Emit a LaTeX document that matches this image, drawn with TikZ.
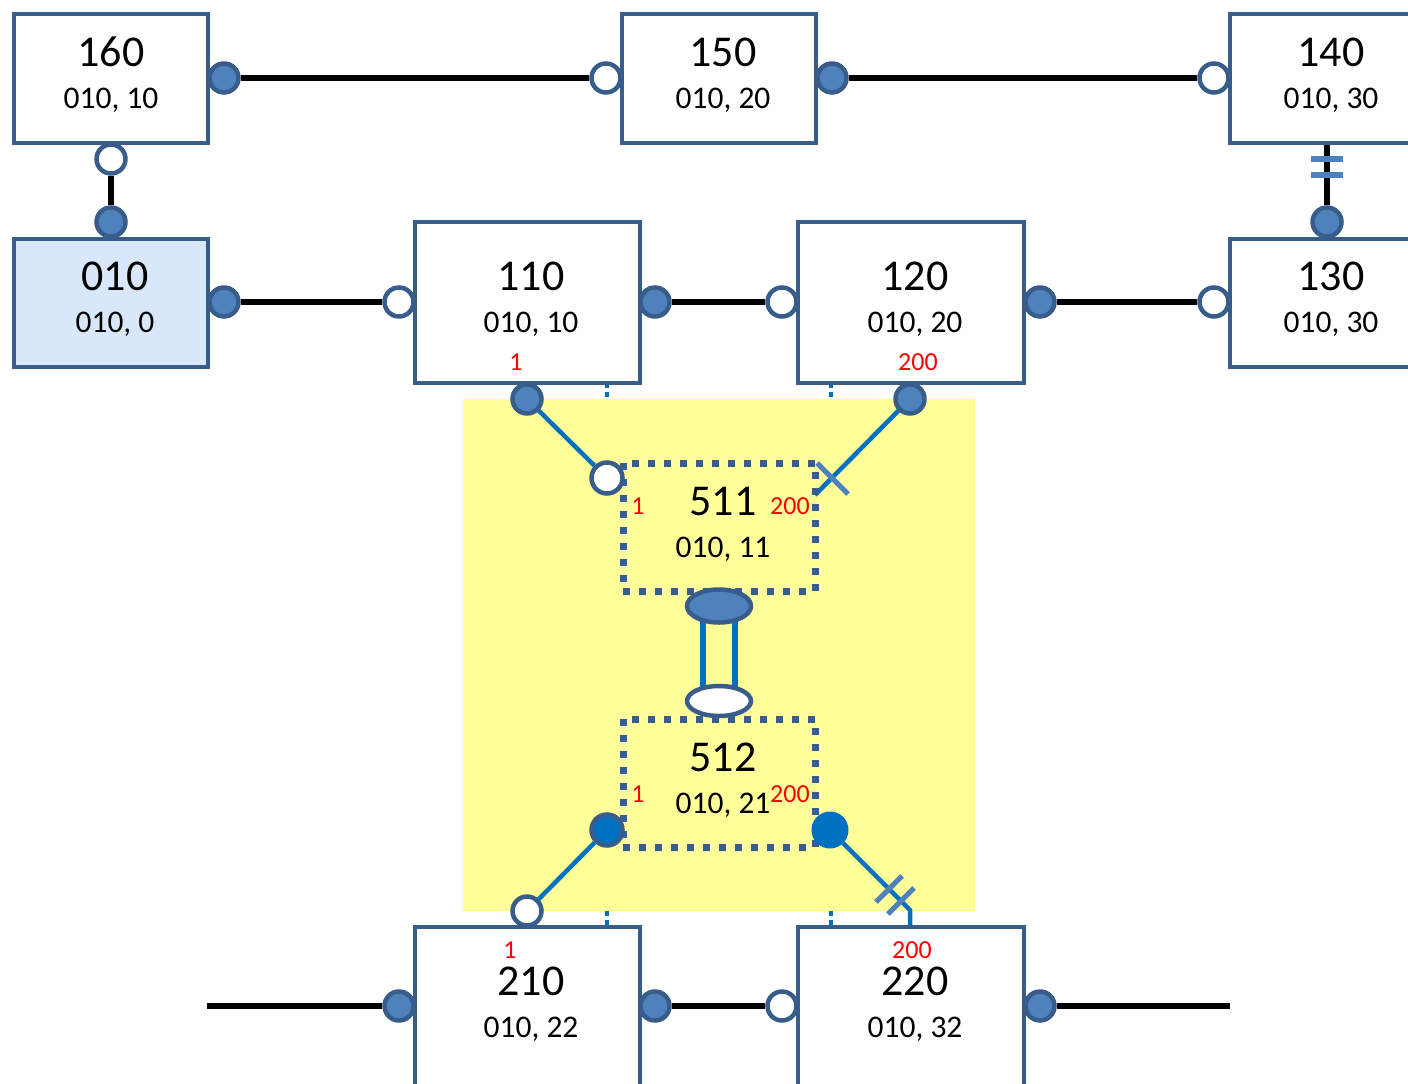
\documentclass[tikz,border=0pt]{standalone}
\usepackage{fontspec}
\setmainfont{Carlito}
\usetikzlibrary{shapes.geometric,calc}
\definecolor{bd}{HTML}{385D8A}
\definecolor{pfc}{HTML}{4F81BD}
\definecolor{blc}{HTML}{0070C0}
\definecolor{ylc}{HTML}{FFFF99}
\definecolor{lbc}{HTML}{D8E7FA}
\pgfdeclarelayer{bgA}\pgfdeclarelayer{bgB}\pgfsetlayers{bgA,bgB,main}
\begin{document}
\begin{tikzpicture}[x=1pt,y=-1pt,
  box/.style={draw=bd,line width=4pt,fill=white,minimum width=194pt,minimum height=129pt,inner sep=0pt},
  wbox/.style={box,minimum width=225pt,minimum height=161pt},
  dbox/.style={draw=bd,line width=7pt,dash pattern=on 7pt off 9pt,minimum width=192pt,minimum height=128pt,inner sep=0pt},
  bigt/.style={anchor=base,inner sep=0pt,font=\fontsize{44}{44}\selectfont},
  subt/.style={anchor=base,inner sep=0pt,font=\fontsize{31.5}{31.5}\selectfont},
  redt/.style={anchor=base,inner sep=0pt,text=red,font=\fontsize{26}{26}\selectfont},
  pfill/.style={circle,draw=bd,line width=4.5pt,fill=pfc,minimum size=29pt,inner sep=0pt},
  popen/.style={circle,draw=bd,line width=4.5pt,fill=white,minimum size=29pt,inner sep=0pt},
  blk/.style={line width=5.5pt,black},
  bline/.style={line width=4.5pt,blc},
  stub/.style={line width=4pt,blc,dash pattern=on 5pt off 4pt},
  tick/.style={line width=5pt,pfc},
]
\useasboundingbox (0,0) rectangle (1408,1084);
\begin{pgfonlayer}{bgA}
\fill[ylc] (463,399) rectangle (975,911);
\end{pgfonlayer}

% boxes
\node[box] (n160) at (111,78.5) {};
\node[box] (n150) at (719,78.5) {};
\node[box] (n140) at (1327,78.5) {};
\node[box,fill=lbc,minimum height=128pt] (n010) at (111,303) {};
\node[box,minimum height=128pt] (n130) at (1327,303) {};
\node[wbox] (n110) at (527,302.5) {};
\node[wbox,minimum width=226pt] (n120) at (911,302.5) {};
\node[wbox] (n210) at (527,1007.5) {};
\node[wbox,minimum width=226pt] (n220) at (911,1007.5) {};
\node[dbox] (n511) at (719,527) {};
\node[dbox] (n512) at (719,783) {};

% texts
\node[bigt] (t160) at (111,66.5) {160};   \node[subt] (s160) at (111,108.5) {010, 10};
\node[bigt] (t150) at (723,66.5) {150};   \node[subt] (s150) at (723,108.5) {010, 20};
\node[bigt] (t140) at (1331,66.5) {140};  \node[subt] (s140) at (1331,108.5) {010, 30};
\node[bigt] (t010) at (115,290.5) {010};  \node[subt] (s010) at (115,332.5) {010, 0};
\node[bigt] (t130) at (1331,290.5) {130}; \node[subt] (s130) at (1331,332.5) {010, 30};
\node[bigt] (t110) at (531,290.5) {110};  \node[subt] (s110) at (531,332.5) {010, 10};
\node[bigt] (t120) at (915,290.5) {120};  \node[subt] (s120) at (915,332.5) {010, 20};
\node[bigt] (t511) at (723,515) {511};    \node[subt] (s511) at (723,557) {010, 11};
\node[bigt] (t512) at (723,771) {512};    \node[subt] (s512) at (723,813) {010, 21};
\node[bigt] (t210) at (531,995) {210};    \node[subt] (s210) at (531,1037) {010, 22};
\node[bigt] (t220) at (915,995) {220};    \node[subt] (s220) at (915,1037) {010, 32};

\node[redt] (r110) at (516,370) {1};
\node[redt] (r120) at (918,370) {200};
\node[redt] (r511a) at (638,514) {1};
\node[redt] (r511b) at (790,514) {200};
\node[redt] (r512a) at (638,802) {1};
\node[redt] (r512b) at (790,802) {200};
\node[redt] (r210) at (510,958) {1};
\node[redt] (r220) at (912,958) {200};

% ports
\node[pfill] (p160r) at (224,78) {};
\node[popen] (p150l) at (606,78) {};
\node[pfill] (p150r) at (832,78) {};
\node[popen] (p140l) at (1214,78) {};
\node[popen] (p160b) at (111,159) {};
\node[pfill] (p010t) at (111,222) {};
\node[pfill] (p130t) at (1327,222) {};
\node[pfill] (p010r) at (224,302) {};
\node[popen] (p110l) at (399,302) {};
\node[pfill] (p110r) at (655,302) {};
\node[popen] (p120l) at (782,302) {};
\node[pfill] (p120r) at (1040,302) {};
\node[popen] (p130l) at (1214,302) {};
\node[pfill] (p110b) at (527,399) {};
\node[pfill] (p120b) at (910,399) {};
\node[popen,minimum size=31pt] (p511) at (607,478) {};
\node[ellipse,draw=bd,line width=4.5pt,fill=pfc,minimum width=64pt,minimum height=33pt,inner sep=0pt] (pe1) at (719,606) {};
\node[ellipse,draw=bd,line width=4.5pt,fill=white,minimum width=64pt,minimum height=30pt,inner sep=0pt] (pe2) at (719,701) {};
\node[circle,draw=bd,line width=4.5pt,fill=blc,minimum size=31pt,inner sep=0pt] (p512l) at (607,830) {};
\node[circle,fill=blc,minimum size=37pt,inner sep=0pt] (p512r) at (830,830) {};
\node[popen] (p210t) at (527,911) {};
\node[pfill] (p210l) at (399,1006) {};
\node[pfill] (p210r) at (655,1006) {};
\node[popen] (p220l) at (782,1006) {};
\node[pfill] (p220r) at (1040,1006) {};
\coordinate (cL) at (207,1006);
\coordinate (cR) at (1230,1006);
\coordinate (c511r) at (815,495);
\coordinate (cbend) at (910,910);

% connectors
\begin{pgfonlayer}{bgB}
\draw[blk] (p160r) -- (p150l);
\draw[blk] (p150r) -- (p140l);
\draw[blk] (p160b) -- (p010t);
\draw[blk] (n140.south -| p130t) -- (p130t);
\draw[blk] (p010r) -- (p110l);
\draw[blk] (p110r) -- (p120l);
\draw[blk] (p120r) -- (p130l);
\draw[blk] (cL) -- (p210l);
\draw[blk] (p210r) -- (p220l);
\draw[blk] (p220r) -- (cR);
\draw[bline] (p110b) -- (p511);
\draw[bline] (p120b) -- (c511r);
\draw[bline] (p512l) -- (p210t);
\draw[bline] (p512r) -- (cbend) -- (cbend |- n220.north);
\draw[blc,line width=6pt] ([xshift=-16pt]pe1.center) -- ([xshift=-16pt]pe2.center);
\draw[blc,line width=6pt] ([xshift=16pt]pe1.center) -- ([xshift=16pt]pe2.center);
\draw[stub] (607,383) -- (607,399);
\draw[stub] (831,383) -- (831,399);
\draw[stub] (607,911) -- (607,927);
\draw[stub] (831,911) -- (831,927);
\end{pgfonlayer}

% tick marks
\draw[tick,line width=6pt] (1311,159) -- (1343,159);
\draw[tick,line width=6pt] (1311,175) -- (1343,175);
\draw[tick] (817,463) -- (848,494);
\draw[tick] (876,902) -- (902,876);
\draw[tick] (888,914) -- (914,888);
\end{tikzpicture}
\end{document}
